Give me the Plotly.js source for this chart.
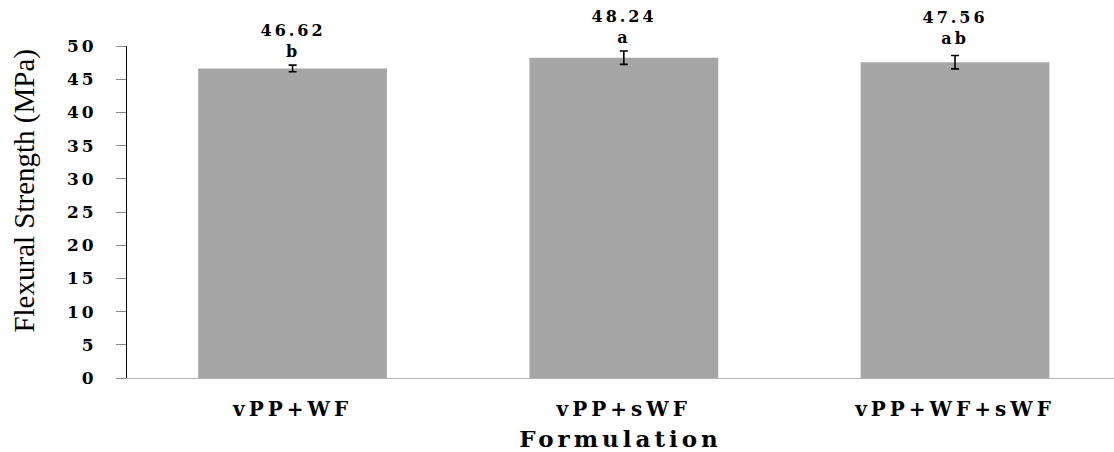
<!DOCTYPE html>
<html>
<head>
<meta charset="utf-8">
<script src="https://cdn.plot.ly/plotly-3.0.1.min.js"></script>
<style>
  html, body { margin: 0; padding: 0; background: #fff; }
  #chart { width: 1114px; height: 452px; }
  .ytick text { letter-spacing: 3px; }
  .xtick text { letter-spacing: 4px; }
  .annotation-text.val { letter-spacing: 3px; }
  .xtitle { letter-spacing: 4px; }
</style>
</head>
<body>
<div id="chart"></div>
<script>
const categories = ["vPP+WF", "vPP+sWF", "vPP+WF+sWF"];
const strength = [46.62, 48.24, 47.56];
const errors = [0.5, 1.0, 1.0];
const groups = ["b", "a", "ab"];
const yTicks = [0, 5, 10, 15, 20, 25, 30, 35, 40, 45, 50];
const yTitle = "Flexural Strength (MPa)";
const xTitle = "Formulation";

const labelShift = [2, 2, 6];

const trace = {
  type: "bar",
  x: categories,
  y: strength,
  marker: { color: "#a6a6a6" },
  error_y: { type: "data", array: errors, visible: true, color: "#000", thickness: 1.6, width: 4 },
  hoverinfo: "x+y"
};

const annotations = categories.map((c, i) => ({
  x: c, y: strength[i] + errors[i], xref: "x", yref: "y",
  text: "<b>" + strength[i].toFixed(2) + "</b><br><b>" + groups[i] + "</b>",
  showarrow: false, yanchor: "bottom", xanchor: "center",
  yshift: labelShift[i],
  font: { family: "DejaVu Serif", size: 16, color: "#000" }
}));

annotations.push({
  xref: "paper", yref: "paper", x: 0, y: 0.563,
  xanchor: "right", yanchor: "middle", xshift: -84,
  textangle: -90, showarrow: false,
  text: yTitle,
  font: { family: "Liberation Serif", size: 29, color: "#000" }
});

const layout = {
  width: 1114, height: 452,
  margin: { l: 127, r: 0, t: 46, b: 74 },
  paper_bgcolor: "#fff", plot_bgcolor: "#fff",
  showlegend: false,
  bargap: 0.43,
  font: { family: "DejaVu Serif", color: "#000" },
  xaxis: {
    type: "category",
    range: [-0.5, 2.48],
    showline: true, linecolor: "#b3b3b3", linewidth: 1,
    ticks: "", showgrid: false, zeroline: false,
    tickfont: { family: "DejaVu Serif", size: 20, color: "#000", weight: "bold" },
    ticklabelstandoff: 13,
    title: { text: "<b>" + xTitle + "</b>", font: { family: "DejaVu Serif", size: 23, color: "#000" }, standoff: 10 },
    automargin: false, fixedrange: true
  },
  yaxis: {
    range: [0, 50],
    tickvals: yTicks, ticktext: yTicks.map(String),
    showline: true, linecolor: "#000", linewidth: 1,
    ticks: "outside", ticklen: 10, tickcolor: "#888", tickwidth: 1,
    showgrid: false, zeroline: false,
    tickfont: { family: "DejaVu Serif", size: 17, color: "#000", weight: "bold" },
    ticklabelstandoff: 16,
    automargin: false, fixedrange: true
  },
  annotations: annotations
};

Plotly.newPlot("chart", [trace], layout, { displayModeBar: false, staticPlot: true }).then(() => {
  document.querySelectorAll(".annotation-text").forEach((t, i) => {
    if (i < categories.length) t.classList.add("val");
  });
});
</script>
</body>
</html>
